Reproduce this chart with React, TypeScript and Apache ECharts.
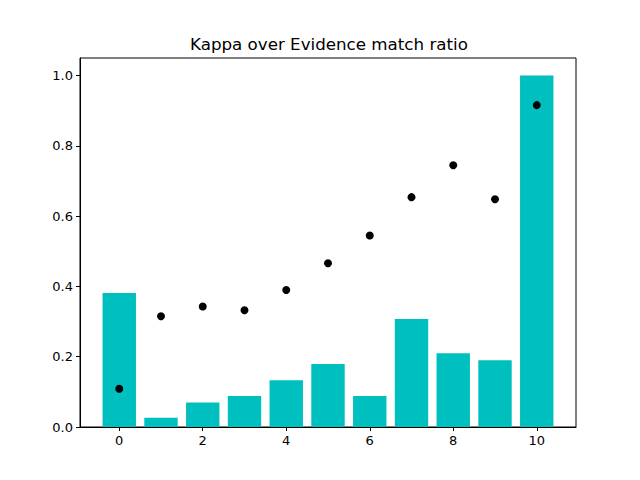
import React, { useEffect, useRef } from "react";
import * as echarts from "echarts";

const positions = [0, 1, 2, 3, 4, 5, 6, 7, 8, 9, 10];
const barValues = [0.381, 0.026, 0.070, 0.088, 0.133, 0.179, 0.088, 0.307, 0.210, 0.190, 1.0];
const pointValues = [0.109, 0.315, 0.343, 0.332, 0.390, 0.466, 0.545, 0.654, 0.745, 0.648, 0.916];
const xTicks = [0, 2, 4, 6, 8, 10];
const yTicks = [0, 0.2, 0.4, 0.6, 0.8, 1.0];
const titleText = "Kappa over Evidence match ratio";

export default function App() {
  const ref = useRef<HTMLDivElement>(null);
  useEffect(() => {
    if (!ref.current) return;
    const chart = echarts.init(ref.current, null, { renderer: "svg" });
    const font = "DejaVu Sans";
    const xMin = -0.94, xMax = 10.94;
    const plotW = 640 - 80 - 64;
    const barW = (plotW / (xMax - xMin)) * 0.8;
    chart.setOption({
      animation: false,
      backgroundColor: "#fff",
      title: {
        text: titleText,
        left: 190,
        top: 35,
        padding: 0,
        textStyle: { fontFamily: font, fontSize: 16.7, fontWeight: "normal", color: "#000" },
      },
      grid: {
        left: 80, right: 64, top: 58, bottom: 53,
        show: true, borderColor: "#000", borderWidth: 1, backgroundColor: "transparent",
      },
      xAxis: {
        type: "value",
        min: xMin, max: xMax,
        splitLine: { show: false },
        axisLine: { show: true, onZero: false, lineStyle: { color: "#000", width: 1 } },
        axisTick: { show: true, customValues: xTicks, length: 4, lineStyle: { color: "#000" } },
        axisLabel: {
          customValues: xTicks, color: "#000", fontFamily: font, fontSize: 13, margin: 7,
          formatter: (v: number) => String(v),
        },
      },
      yAxis: {
        type: "value",
        min: 0, max: 1.05,
        splitLine: { show: false },
        axisLine: { show: true, onZero: false, lineStyle: { color: "#000", width: 1 } },
        axisTick: { show: true, customValues: yTicks, length: 4, lineStyle: { color: "#000" } },
        axisLabel: {
          customValues: yTicks, color: "#000", fontFamily: font, fontSize: 13, margin: 7,
          formatter: (v: number) => v.toFixed(1),
        },
      },
      series: [
        {
          type: "bar",
          data: positions.map((p, i) => [p, barValues[i]]),
          barWidth: barW,
          itemStyle: { color: "#00bfbf" },
        },
        {
          type: "scatter",
          data: positions.map((p, i) => [p, pointValues[i]]),
          symbol: "circle",
          symbolSize: 8,
          itemStyle: { color: "#000", opacity: 1 },
          z: 5,
        },
      ],
    });
    return () => chart.dispose();
  }, []);
  return <div ref={ref} style={{ position: "fixed", left: 0, top: 0, width: 640, height: 480 }} />;
}
